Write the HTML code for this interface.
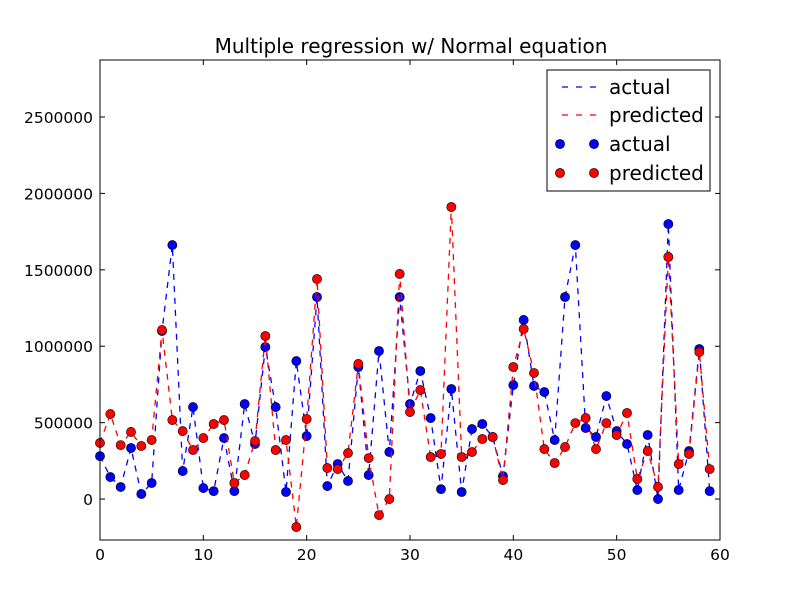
<!DOCTYPE html>
<html><head><meta charset="utf-8"><style>
body{margin:0;background:#fff}
svg{display:block;font-family:"DejaVu Sans","Liberation Sans",sans-serif}
</style></head><body>
<svg id="c" width="800" height="600"></svg>
<script>
const xs = Array.from({length:60},(_, i)=>i);
const actual = [281000,144000,79000,334000,33000,105000,1100000,1662000,183000,602000,72000,52000,399000,52000,622000,360000,995000,602000,46000,903000,412000,1322000,85000,229000,118000,864000,157000,969000,308000,1322000,622000,838000,530000,65000,720000,46000,458000,491000,406000,150000,746000,1172000,740000,700000,386000,1322000,1662000,465000,406000,674000,445000,360000,59000,419000,0,1800000,59000,314000,982000,52000];
const predicted = [367000,556000,353000,439000,347000,386000,1106000,517000,445000,321000,399000,491000,517000,105000,157000,380000,1067000,321000,386000,-183000,524000,1440000,203000,196000,301000,884000,268000,-105000,0,1473000,569000,713000,275000,295000,1911000,275000,308000,393000,406000,124000,864000,1113000,825000,327000,236000,340000,497000,530000,327000,497000,419000,563000,131000,314000,79000,1584000,229000,295000,962000,196000];
const xTicks = [0,10,20,30,40,50,60];
const yTicks = [0,500000,1000000,1500000,2000000,2500000];
const X0=100,X1=720,Y0=60,Y1=540,XMIN=0,XMAX=60,YMIN=-268000,YMAX=2873000;
const sx=v=>X0+(v-XMIN)/(XMAX-XMIN)*(X1-X0);
const sy=v=>Y1-(v-YMIN)/(YMAX-YMIN)*(Y1-Y0);
const svg=document.getElementById('c');
const NS='http://www.w3.org/2000/svg';
function mk(t,a,p){const e=document.createElementNS(NS,t);for(const k in a)e.setAttribute(k,a[k]);(p||svg).appendChild(e);return e;}
let e;
e=mk('text',{x:411,y:53,'text-anchor':'middle','font-size':20});e.textContent='Multiple regression w/ Normal equation';


function series(vals,color,name){
  const pts=xs.map((x,i)=>sx(x)+','+sy(vals[i])).join(' ');
  e=mk('polyline',{points:pts,fill:'none',stroke:color,'stroke-width':1.3,'stroke-dasharray':'6,6'});
  
  
  xs.forEach((x,i)=>{
    e=mk('circle',{cx:sx(x),cy:sy(vals[i]),r:4.6,fill:color,stroke:'#000','stroke-width':0.6});
    
    
  });
}
series(actual,'#0000ff','actual');
series(predicted,'#ff0000','predicted');
e=mk('rect',{x:X0,y:Y0,width:X1-X0,height:Y1-Y0,fill:'none',stroke:'#000','stroke-width':1});


xTicks.forEach(t=>{
  const x=sx(t);
  mk('line',{x1:x,x2:x,y1:Y1,y2:Y1-5,stroke:'#000'});
  mk('line',{x1:x,x2:x,y1:Y0,y2:Y0+5,stroke:'#000'});
  e=mk('text',{x:x,y:Y1+20,'text-anchor':'middle','font-size':15.5});e.textContent=t;
  
  
});
yTicks.forEach(t=>{
  const y=sy(t);
  mk('line',{x1:X0,x2:X0+5,y1:y,y2:y,stroke:'#000'});
  mk('line',{x1:X1,x2:X1-5,y1:y,y2:y,stroke:'#000'});
  e=mk('text',{x:X0-7,y:y+6,'text-anchor':'end','font-size':15.5});e.textContent=t;
  
  
});
const lg=mk('g',{});


mk('rect',{x:547,y:70,width:163,height:121,fill:'#fff',stroke:'#000'},lg);
const entries=[['actual','#0000ff',false,87],['predicted','#ff0000',false,115],['actual','#0000ff',true,144],['predicted','#ff0000',true,173]];
entries.forEach(([lab,col,mark,y])=>{
  if(mark){mk('circle',{cx:560,cy:y,r:4.6,fill:col,stroke:'#000','stroke-width':0.6},lg);mk('circle',{cx:594,cy:y,r:4.6,fill:col,stroke:'#000','stroke-width':0.6},lg);}
  else mk('line',{x1:556,x2:598,y1:y,y2:y,stroke:col,'stroke-width':1.3,'stroke-dasharray':'6,8','stroke-dashoffset':-6},lg);
  e=mk('text',{x:609,y:y+7,'font-size':20},lg);e.textContent=lab;
  
  
});
</script>
</body></html>
